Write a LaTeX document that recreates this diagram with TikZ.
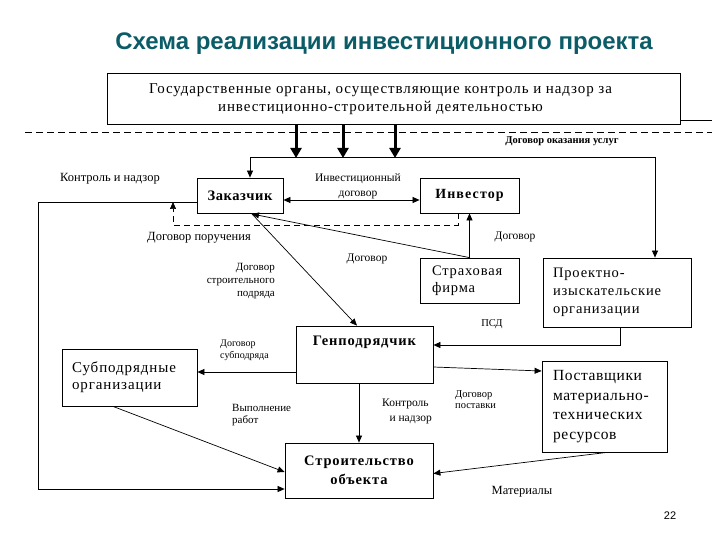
\documentclass[tikz,border=0pt]{standalone}
\usepackage{fontspec}
\setmainfont{Liberation Serif}
\newfontfamily\titlefont{Liberation Sans}
\usetikzlibrary{arrows.meta,calc}
\definecolor{titlecol}{RGB}{12,92,104}
\tikzset{
  box/.style={draw=black,line width=0.8pt,fill=white,inner sep=0pt},
  lbl/.style={inner sep=0pt,font=\fontsize{10}{12}\selectfont},
  arr/.style={line width=0.7pt,-{Triangle[length=7pt,width=6pt]}},
  darr/.style={line width=0.7pt,{Triangle[length=7pt,width=6pt]}-{Triangle[length=7pt,width=6pt]}},
  thickarr/.style={line width=3pt,-{Triangle[length=10pt,width=11pt]}},
  plain/.style={line width=0.7pt},
}
\begin{document}
\begin{tikzpicture}[x=1pt,y=-1pt]
\useasboundingbox (0,0) rectangle (720,540);
% title
\node[inner sep=0pt,text=titlecol,font=\titlefont\bfseries\fontsize{24}{28}\selectfont] (title) at (384,44) {Схема реализации инвестиционного проекта};
% boxes
\node[box,minimum width=573pt,minimum height=51pt,font=\addfontfeature{LetterSpace=6}\fontsize{15}{19}\selectfont] (gov) at (393.5,98.5) {\begin{tabular}{@{}c@{}}Государственные органы, осуществляющие контроль и надзор за\\[-1pt]инвестиционно-строительной деятельностью\end{tabular}\hspace*{26pt}};
\node[box,minimum width=86pt,minimum height=35pt,font=\bfseries\addfontfeature{LetterSpace=4}\fontsize{14.5}{17}\selectfont] (zak) at (240,195.5) {Заказчик};
\node[box,minimum width=99pt,minimum height=35pt,font=\bfseries\addfontfeature{LetterSpace=8}\fontsize{14}{17}\selectfont] (inv) at (469.5,195.5) {Инвестор};
\node[box,minimum width=99pt,minimum height=45pt,text width=75pt,align=left,font=\addfontfeature{LetterSpace=6}\fontsize{14.5}{17}\selectfont] (strakh) at (469.5,280.5) {Страховая\\фирма};
\node[box,minimum width=148pt,minimum height=69pt,text width=128pt,align=left,font=\addfontfeature{LetterSpace=6}\fontsize{14.5}{18}\selectfont] (proekt) at (617,292.5) {Проектно-\\изыскательские\\организации};
\node[box,minimum width=137pt,minimum height=57pt,label={[anchor=north,yshift=-7pt,font=\bfseries\addfontfeature{LetterSpace=6}\fontsize{14.5}{17}\selectfont]north:Генподрядчик}] (gen) at (364.5,354.5) {};
\node[box,minimum width=135pt,minimum height=57pt,text width=115pt,align=left,font=\addfontfeature{LetterSpace=6}\fontsize{15}{17}\selectfont] (sub) at (129.5,377.5) {\raisebox{9pt}{\parbox{115pt}{Субподрядные\\организации}}};
\node[box,minimum width=125pt,minimum height=91pt,text width=103pt,align=left,font=\addfontfeature{LetterSpace=4}\fontsize{15.5}{19.5}\selectfont] (post) at (604.5,406.5) {Поставщики\\материально-\\технических\\ресурсов};
\node[box,minimum width=148pt,minimum height=55pt,align=center,font=\bfseries\addfontfeature{LetterSpace=6}\fontsize{14.5}{19}\selectfont] (stroi) at (359,470.5) {Строительство\\объекта};
% coordinates
\coordinate (a1) at (296,158);
\coordinate (a2) at (343,158);
\coordinate (a3) at (395,158);
\coordinate (s1) at (250,157);
\coordinate (s2) at (655,157);
\coordinate (gr) at (712,120);
\coordinate (dl) at (25,132);
\coordinate (dr) at (712,132);
\coordinate (l1) at (38,202);
\coordinate (l2) at (38,489);
\coordinate (d1) at (458,225);
\coordinate (d2) at (173,225);
\coordinate (p1) at (620,345);
\coordinate (zs) at (252,214);
% connectors
\draw[thickarr] (gov.south -| a1) -- (a1);
\draw[thickarr] (gov.south -| a2) -- (a2);
\draw[thickarr] (gov.south -| a3) -- (a3);
\draw[plain] (gov.south east |- gr) -- (gr);
\draw[plain,dashed,dash pattern=on 7pt off 4pt] (dl) -- (dr);
\draw[arr] (s2) -- (proekt.north -| s2);
\draw[arr] (s2) -- (s1) -- (zak.north -| s1);
\draw[darr] ([yshift=-4.5pt]zak.east) -- ([yshift=-4.5pt]inv.west);
\draw[arr] ([yshift=-6.5pt]zak.west) -- (l1) -- (l2) -- (stroi.west |- l2);
\draw[arr,dashed,dash pattern=on 6pt off 4pt] (inv.south -| d1) -- (d1) -- (d2) -- (d2 |- l1);
\draw[arr] (strakh.north) -- (zs);
\draw[arr] (strakh.north) -- (inv.south);
\draw[arr] (zs) -- ([xshift=-7.5pt]gen.north);
\draw[arr] (proekt.south -| p1) -- (p1) -- (gen.east |- p1);
\draw[arr] ([yshift=-17.5pt]gen.west) -- ([yshift=-17.5pt]gen.west -| sub.east);
\draw[arr] ([yshift=-12.5pt]gen.east) -- ([yshift=35.5pt]post.west);
\draw[arr] (gen.south -| stroi.north) -- (stroi.north);
\draw[arr] ([xshift=-16.5pt]sub.south) -- ([yshift=-1.5pt]stroi.west);
\draw[arr] ([xshift=2.5pt]post.south) -- ([yshift=-3pt]stroi.east);
% labels
\node[lbl,font=\bfseries\fontsize{10.5}{12}\selectfont] (t1) at (562,141) {Договор оказания услуг};
\node[lbl,font=\fontsize{12.5}{14}\selectfont] (t2) at (110,179) {Контроль и надзор};
\node[lbl,align=center,font=\fontsize{11.5}{15}\selectfont] (t3) at (358,186.5) {Инвестиционный\\договор};
\node[lbl,font=\fontsize{12.5}{14}\selectfont] (t4) at (199,238) {Договор поручения};
\node[lbl,font=\fontsize{11.5}{14}\selectfont] (t5) at (515,237) {Договор};
\node[lbl,font=\fontsize{11.5}{14}\selectfont] (t6) at (367,259) {Договор};
\node[lbl,align=right,anchor=east,font=\fontsize{11}{13}\selectfont] (t7) at (275,281) {Договор\\строительного\\подряда};
\node[lbl,font=\fontsize{10.5}{12}\selectfont] (t8) at (492,324) {ПСД};
\node[lbl,align=left,anchor=west,font=\fontsize{10}{12}\selectfont] (t9) at (220,350) {Договор\\субподряда};
\node[lbl,align=left,anchor=west,font=\fontsize{11}{12}\selectfont] (t10) at (232,415) {Выполнение\\работ};
\node[lbl,align=left,anchor=west,font=\fontsize{10.5}{11}\selectfont] (t11) at (455,399.5) {Договор\\поставки};
\node[lbl,align=left,anchor=west,font=\fontsize{11.5}{12}\selectfont] (t12) at (382,404) {Контроль};
\node[lbl,anchor=east,font=\fontsize{11.5}{12}\selectfont] (t13) at (432,420) {и надзор};
\node[lbl,font=\fontsize{12.5}{13}\selectfont] (t14) at (522,492) {Материалы};
\node[lbl,font=\titlefont\fontsize{11}{13}\selectfont] (pg) at (670,516) {22};
\end{tikzpicture}
\end{document}
